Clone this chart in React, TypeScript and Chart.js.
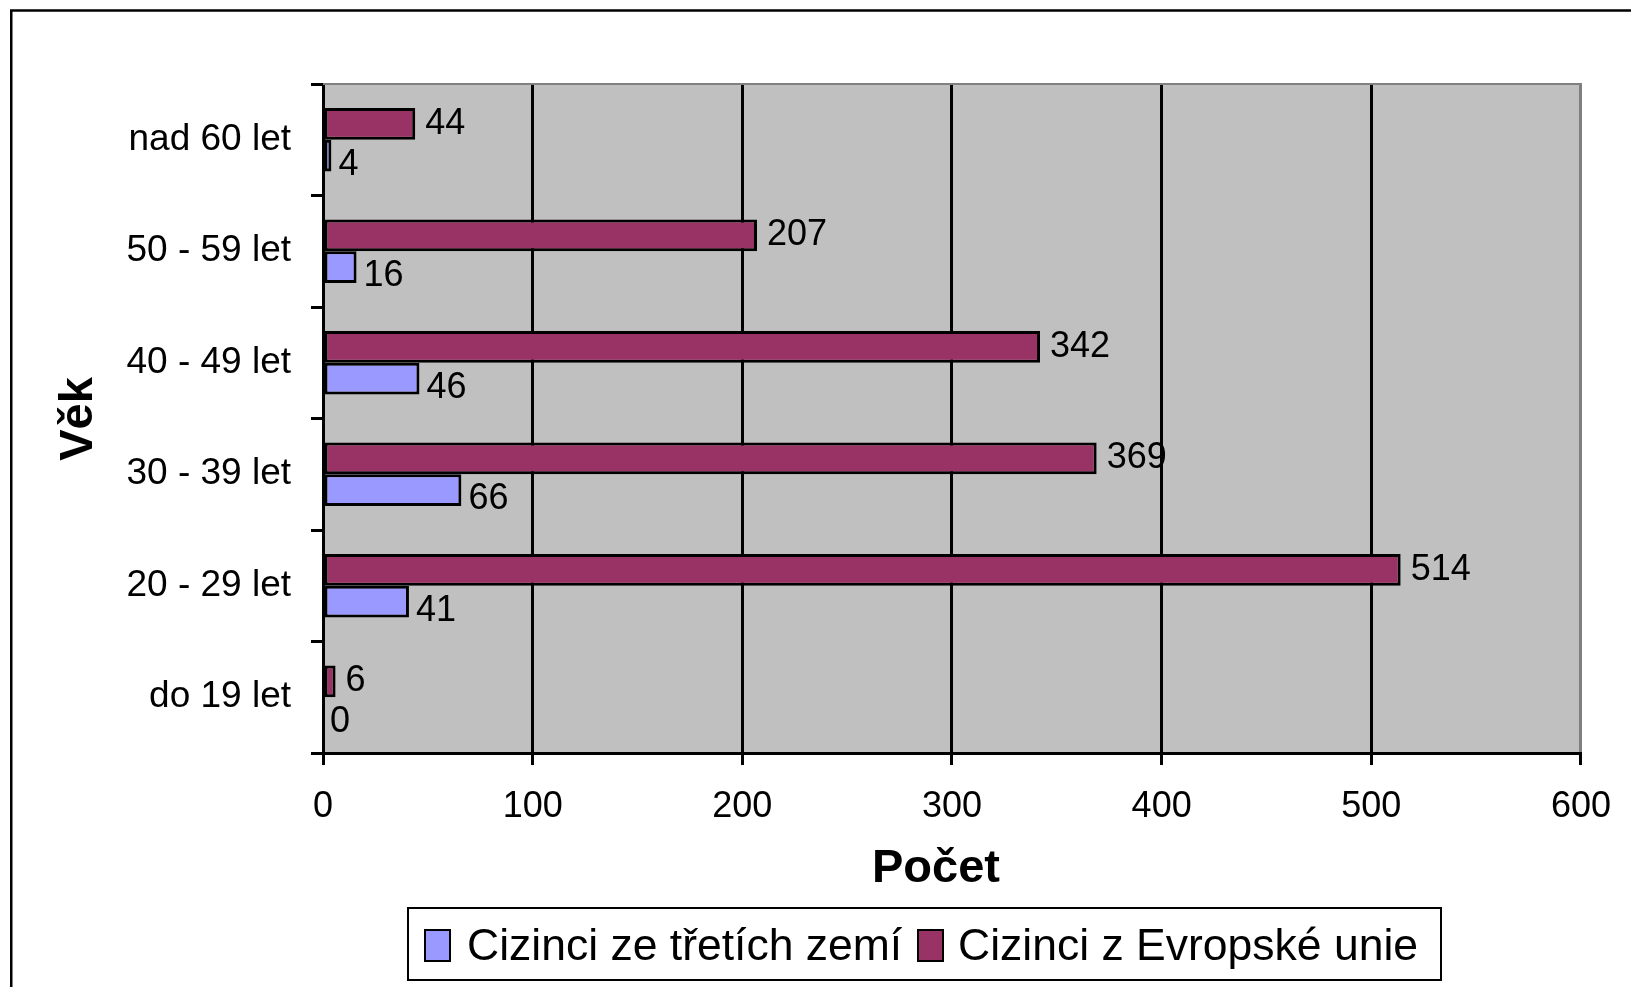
import React, { useEffect, useRef } from 'react';
import { Chart, registerables } from 'chart.js';

Chart.register(...registerables);

const categories = ['nad 60 let', '50 - 59 let', '40 - 49 let', '30 - 39 let', '20 - 29 let', 'do 19 let'];
const euValues = [44, 207, 342, 369, 514, 6];
const thirdValues = [4, 16, 46, 66, 41, 0];
const seriesThird = 'Cizinci ze třetích zemí';
const seriesEU = 'Cizinci z Evropské unie';
const xMin = 0;
const xMax = 600;
const xStep = 100;
const xTitle = 'Počet';
const yTitle = 'Věk';

const FONT = "'Liberation Sans', Arial, sans-serif";
const EU_COLOR = '#993366';
const THIRD_COLOR = '#9999FF';
const PLOT_BG = '#C0C0C0';

const W = 1631;
const H = 987;

const bgPlugin = {
  id: 'bgPlugin',
  beforeDraw(chart: any) {
    const { ctx, chartArea } = chart;
    ctx.save();
    ctx.fillStyle = '#ffffff';
    ctx.fillRect(0, 0, chart.width, chart.height);
    ctx.fillStyle = PLOT_BG;
    ctx.fillRect(chartArea.left, chartArea.top, chartArea.right - chartArea.left, chartArea.bottom - chartArea.top);
    ctx.restore();
  },
};

const labelPlugin = {
  id: 'valueLabels',
  afterDatasetsDraw(chart: any) {
    const { ctx } = chart;
    ctx.save();
    ctx.font = `36px ${FONT}`;
    ctx.fillStyle = '#000';
    ctx.textAlign = 'left';
    ctx.textBaseline = 'middle';
    chart.data.datasets.forEach((ds: any, di: number) => {
      const meta = chart.getDatasetMeta(di);
      const isThird = ds.label === seriesThird;
      meta.data.forEach((el: any, i: number) => {
        const p = el.getProps(['x', 'y'], true);
        const dx = isThird ? 7 : 10;
        const dy = isThird ? 9 : 0;
        ctx.fillText(String(ds.data[i]), p.x + dx, p.y + dy);
      });
    });
    ctx.restore();
  },
};

const decorPlugin = {
  id: 'decor',
  afterDraw(chart: any) {
    const { ctx, chartArea } = chart;
    ctx.save();
    // outer frame (left & top visible)
    ctx.strokeStyle = '#000';
    ctx.lineWidth = 2.5;
    ctx.beginPath();
    ctx.moveTo(11.25, chart.height + 5);
    ctx.lineTo(11.25, 10.5);
    ctx.lineTo(chart.width + 5, 10.5);
    ctx.stroke();

    // plot top border (gray)
    ctx.strokeStyle = '#808080';
    ctx.lineWidth = 2;
    ctx.beginPath();
    ctx.moveTo(chartArea.left, chartArea.top);
    ctx.lineTo(chartArea.right + 1, chartArea.top);
    ctx.stroke();

    // axis titles
    ctx.fillStyle = '#000';
    ctx.textAlign = 'center';
    ctx.textBaseline = 'middle';
    ctx.font = `bold 47px ${FONT}`;
    ctx.fillText(xTitle, 936, 869);
    ctx.save();
    ctx.translate(79, 419);
    ctx.rotate(-Math.PI / 2);
    ctx.font = `bold 47px ${FONT}`;
    ctx.fillText(yTitle, 0, 0);
    ctx.restore();

    // legend
    ctx.strokeStyle = '#000';
    ctx.lineWidth = 2;
    ctx.strokeRect(408, 908, 1033, 72);
    const items = [
      { name: seriesThird, color: THIRD_COLOR, bx: 425, tx: 467 },
      { name: seriesEU, color: EU_COLOR, bx: 918, tx: 958 },
    ];
    ctx.font = `44.5px ${FONT}`;
    ctx.textAlign = 'left';
    items.forEach((it) => {
      ctx.fillStyle = it.color;
      ctx.fillRect(it.bx, 930, 25, 31);
      ctx.strokeStyle = '#000';
      ctx.lineWidth = 2;
      ctx.strokeRect(it.bx, 930, 25, 31);
      ctx.fillStyle = '#000';
      ctx.fillText(it.name, it.tx, 948);
    });
    ctx.restore();
  },
};

export default function App() {
  const ref = useRef<HTMLCanvasElement | null>(null);

  useEffect(() => {
    if (!ref.current) return;
    const chart = new Chart(ref.current, {
      type: 'bar',
      data: {
        labels: categories,
        datasets: [
          {
            label: seriesEU,
            data: euValues,
            backgroundColor: EU_COLOR,
            borderColor: '#000',
            borderWidth: 3,
            borderSkipped: false,
            categoryPercentage: 0.571,
            barPercentage: 1.0,
          },
          {
            label: seriesThird,
            data: thirdValues,
            backgroundColor: THIRD_COLOR,
            borderColor: '#000',
            borderWidth: 3,
            borderSkipped: false,
            categoryPercentage: 0.571,
            barPercentage: 1.0,
          },
        ],
      },
      options: {
        indexAxis: 'y',
        responsive: false,
        animation: false,
        devicePixelRatio: 1,
        layout: { padding: { left: 0, right: 44, top: 84, bottom: 0 } },
        plugins: {
          legend: { display: false },
          tooltip: { enabled: false },
          title: { display: false },
        },
        scales: {
          x: {
            type: 'linear',
            min: xMin,
            max: xMax,
            position: 'bottom',
            ticks: {
              stepSize: xStep,
              color: '#000',
              font: { family: FONT, size: 36 },
              padding: 20,
              maxRotation: 0,
            },
            grid: {
              display: true,
              drawOnChartArea: true,
              drawTicks: true,
              tickLength: 12,
              lineWidth: 3,
              color: (c: any) => (c.tick && c.tick.value === xMax ? '#808080' : '#000'),
              tickColor: '#000',
            },
            border: { display: true, color: '#000', width: 3 },
            afterFit: (s: any) => {
              s.height = 234;
            },
          },
          y: {
            type: 'category',
            position: 'left',
            ticks: {
              color: '#000',
              font: { family: FONT, size: 37 },
              padding: 20,
              autoSkip: false,
            },
            grid: {
              display: true,
              drawOnChartArea: false,
              drawTicks: true,
              tickLength: 12,
              offset: true,
              lineWidth: 3,
              color: '#000',
              tickColor: '#000',
            },
            border: { display: true, color: '#000', width: 3 },
            afterFit: (s: any) => {
              s.width = 323;
            },
          },
        },
      },
      plugins: [bgPlugin, labelPlugin, decorPlugin],
    } as any);
    return () => chart.destroy();
  }, []);

  return (
    <div style={{ position: 'absolute', left: 0, top: 0, width: W, height: H, background: '#fff' }}>
      <canvas ref={ref} width={W} height={H} style={{ display: 'block', width: W, height: H }} />
    </div>
  );
}
